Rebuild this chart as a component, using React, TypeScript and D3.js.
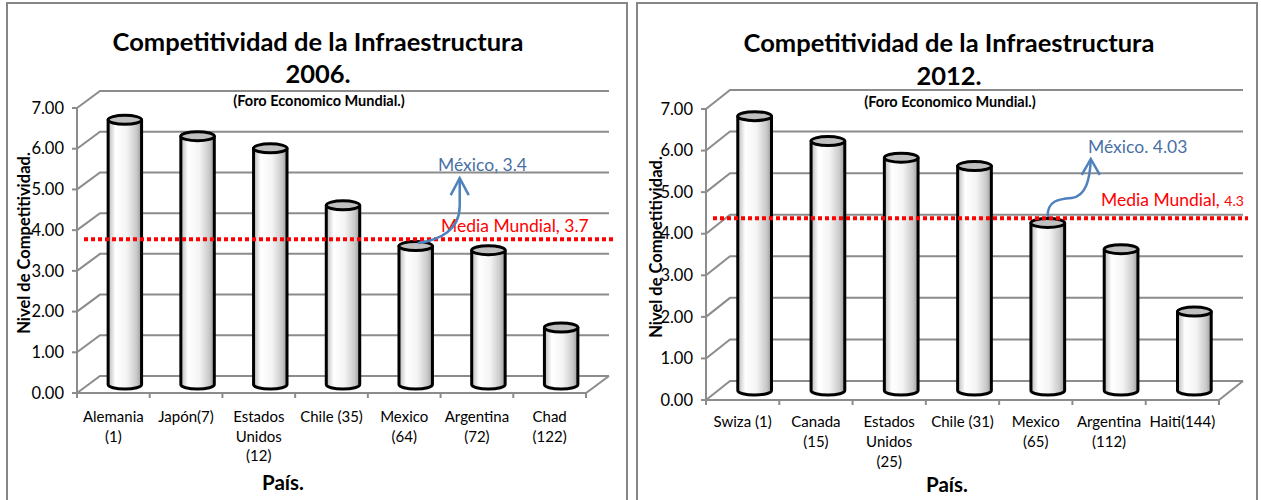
import React from "react";
import * as d3 from "d3";

// ---------- DATA ----------
const categories2006: string[][] = [
  ["Alemania", "(1)"],
  ["Japón(7)"],
  ["Estados", "Unidos", "(12)"],
  ["Chile (35)"],
  ["Mexico", "(64)"],
  ["Argentina", "(72)"],
  ["Chad", "(122)"],
];
const values2006: number[] = [6.5, 6.1, 5.8, 4.4, 3.4, 3.3, 1.4];

const categories2012: string[][] = [
  ["Swiza (1)"],
  ["Canada", "(15)"],
  ["Estados", "Unidos", "(25)"],
  ["Chile (31)"],
  ["Mexico", "(65)"],
  ["Argentina", "(112)"],
  ["Haiti(144)"],
];
const values2012: number[] = [6.6, 6.0, 5.6, 5.4, 4.03, 3.4, 1.9];

const yTicks: number[] = [0, 1, 2, 3, 4, 5, 6, 7];
const mean2006 = 3.7;
const mean2012 = 4.3;
const mexicoIndex = 4;

const titleLine1 = "Competitividad de la Infraestructura";
const subtitle = "(Foro Economico Mundial.)";
const yTitle = "Nivel de Competitividad.";
const xTitle = "País.";

const FONT = "Lato, 'Open Sans', sans-serif";

type PanelProps = {
  id: string;
  year: string;
  cats: string[][];
  values: number[];
  mean: number;
  meanLabel: React.ReactNode;
  mexLabel: string;
  box: [number, number, number, number];
  axisX: number;
  frontRight: number;
  baseY: number;
  topY: number;
  dx: number;
  dy: number;
  titleX: number;
  titleY: number;
  yearY: number;
  subY: number;
  yTitlePos: [number, number];
  xTitlePos: [number, number];
  meanLabelPos: [number, number];
  mexLabelPos: [number, number];
  arrowPath: (sx: number, sy: number) => string;
  arrowHead: (sx: number, sy: number) => string;
  labelY: number;
  lineH: number;
};

function Panel(p: PanelProps) {
  const y = d3.scaleLinear().domain([0, 7]).range([p.baseY, p.topY]);
  const x = d3
    .scaleBand<number>()
    .domain(p.values.map((_, i) => i))
    .range([p.axisX, p.frontRight]);
  const bw = x.bandwidth();
  const barW = bw * 0.46;
  const ry = 4.5;
  const backRight = p.frontRight + p.dx;
  const gridColor = "#8c8c8c";
  const fmt = d3.format(".2f");

  const mexCx = (x(mexicoIndex) as number) + bw / 2 + p.dx / 2;
  const mexTop = y(p.values[mexicoIndex]) + p.dy / 2;

  return (
    <g>
      <rect
        x={p.box[0]}
        y={p.box[1]}
        width={p.box[2]}
        height={p.box[3]}
        fill="white"
        stroke="#868686"
        strokeWidth={2}
      />
      {yTicks.map((t) => (
        <path
          key={"g" + t}
          d={`M${p.axisX},${y(t)} L${p.axisX + p.dx},${y(t) + p.dy} L${backRight},${y(t) + p.dy}`}
          fill="none"
          stroke={gridColor}
          strokeWidth={2}
        />
      ))}
      <path
        d={`M${p.axisX},${y(0)} L${p.frontRight},${y(0)} L${backRight},${y(0) + p.dy}`}
        fill="none"
        stroke={gridColor}
        strokeWidth={2}
      />
      <line x1={p.axisX} x2={p.axisX} y1={y(0)} y2={y(7)} stroke={gridColor} strokeWidth={2} />
      {yTicks.map((t) => (
        <g key={"yt" + t}>
          <line x1={p.axisX - 5} x2={p.axisX} y1={y(t)} y2={y(t)} stroke={gridColor} strokeWidth={2} />
          <text
            x={p.axisX - 13}
            y={y(t)}
            dy="0.35em"
            textAnchor="end"
            fontFamily={FONT}
            fontSize={16.5}
            fill="#000"
          >
            {fmt(t)}
          </text>
        </g>
      ))}
      {d3.range(p.values.length + 1).map((i) => {
        const xx = p.axisX + i * bw;
        return (
          <line key={"ct" + i} x1={xx} x2={xx} y1={y(0)} y2={y(0) + 5} stroke={gridColor} strokeWidth={2} />
        );
      })}
      {p.values.map((v, i) => {
        const cx = (x(i) as number) + bw / 2 + p.dx / 2;
        const l = cx - barW / 2;
        const r = cx + barW / 2;
        const yb = y(0) + p.dy / 2;
        const yt = y(v) + p.dy / 2;
        return (
          <g key={"b" + i}>
            <path
              d={`M${l},${yt} L${l},${yb} A${barW / 2},${ry} 0 0 0 ${r},${yb} L${r},${yt} Z`}
              fill={`url(#cyl-${p.id})`}
              stroke="#000"
              strokeWidth={3}
              strokeLinejoin="round"
            />
            <ellipse cx={cx} cy={yt} rx={barW / 2} ry={ry} fill="#c0c0c0" stroke="#000" strokeWidth={3} />
          </g>
        );
      })}
      {p.cats.map((lines, i) => {
        const cx = (x(i) as number) + bw / 2;
        return (
          <text key={"cl" + i} textAnchor="middle" fontFamily={FONT} fontSize={15} fill="#000">
            {lines.map((ln, j) => (
              <tspan key={j} x={cx} y={p.labelY + j * p.lineH}>
                {ln}
              </tspan>
            ))}
          </text>
        );
      })}
      <line
        x1={p.axisX + 7}
        x2={backRight + 5}
        y1={y(p.mean) - 3}
        y2={y(p.mean) - 3}
        stroke="#ff0000"
        strokeWidth={4}
        strokeDasharray="4 3"
      />
      <text x={p.meanLabelPos[0]} y={p.meanLabelPos[1]} fontFamily={FONT} fontSize={17.5} fill="#ff0000">
        {p.meanLabel}
      </text>
      <path d={p.arrowPath(mexCx, mexTop)} fill="none" stroke="#4f81bd" strokeWidth={2.5} />
      <path d={p.arrowHead(mexCx, mexTop)} fill="none" stroke="#4f81bd" strokeWidth={2.5} />
      <text x={p.mexLabelPos[0]} y={p.mexLabelPos[1]} fontFamily={FONT} fontSize={17.5} fill="#4a6fa5">
        {p.mexLabel}
      </text>
      <text x={p.titleX} y={p.titleY} textAnchor="middle" fontFamily={FONT} fontWeight="bold" fontSize={25.5} fill="#000">
        {titleLine1}
      </text>
      <text x={p.titleX} y={p.yearY} textAnchor="middle" fontFamily={FONT} fontWeight="bold" fontSize={25.5} fill="#000">
        {p.year}
      </text>
      <text x={p.titleX + 1} y={p.subY} textAnchor="middle" fontFamily={FONT} fontWeight="bold" fontSize={14.5} fill="#000">
        {subtitle}
      </text>
      <text
        transform={`translate(${p.yTitlePos[0]},${p.yTitlePos[1]}) rotate(-90)`}
        textAnchor="middle"
        dy="0.35em"
        fontFamily={FONT}
        fontWeight="bold"
        fontSize={16.5}
        fill="#000"
      >
        {yTitle}
      </text>
      <text
        x={p.xTitlePos[0]}
        y={p.xTitlePos[1]}
        textAnchor="middle"
        fontFamily={FONT}
        fontWeight="bold"
        fontSize={20.5}
        fill="#000"
      >
        {xTitle}
      </text>
    </g>
  );
}

export default function App() {
  const gradStops = [
    ["0%", "#b8b8b8"],
    ["22%", "#ffffff"],
    ["55%", "#f4f4f4"],
    ["85%", "#c9c9c9"],
    ["100%", "#9a9a9a"],
  ];
  return (
    <svg
      width={1261}
      height={500}
      style={{ position: "absolute", left: 0, top: 0, background: "white" }}
    >
      <defs>
        {["a", "b"].map((id) => (
          <linearGradient key={id} id={`cyl-${id}`} x1="0" x2="1" y1="0" y2="0">
            {gradStops.map(([o, c]) => (
              <stop key={o} offset={o} stopColor={c} />
            ))}
          </linearGradient>
        ))}
      </defs>
      <Panel
        id="a"
        year="2006."
        cats={categories2006}
        values={values2006}
        mean={mean2006}
        meanLabel={`Media Mundial, ${mean2006}`}
        mexLabel={`México, ${values2006[mexicoIndex]}`}
        box={[7, 3, 620, 510]}
        axisX={77}
        frontRight={586}
        baseY={393}
        topY={108}
        dx={23}
        dy={-17}
        titleX={318}
        titleY={51}
        yearY={83}
        subY={106}
        yTitlePos={[24, 243]}
        xTitlePos={[283, 490]}
        meanLabelPos={[441, 232]}
        mexLabelPos={[438, 171]}
        arrowPath={(sx, sy) =>
          `M${sx + 2},${sy - 3} C${sx + 24},${sy - 6} ${sx + 44},${sy - 16} ${sx + 44},${sy - 40} L${sx + 44},${sy - 68}`
        }
        arrowHead={(sx, sy) =>
          `M${sx + 35},${sy - 51} L${sx + 44},${sy - 68} L${sx + 53},${sy - 51}`
        }
        labelY={422}
        lineH={19.5}
      />
      <Panel
        id="b"
        year="2012."
        cats={categories2012}
        values={values2012}
        mean={mean2012}
        meanLabel={
          <>
            {"Media Mundial, "}
            <tspan fontSize={14}>{mean2012}</tspan>
          </>
        }
        mexLabel={`México. ${values2012[mexicoIndex]}`}
        box={[637, 3, 620, 510]}
        axisX={706}
        frontRight={1219}
        baseY={400}
        topY={109}
        dx={24}
        dy={-19}
        titleX={949}
        titleY={52}
        yearY={85}
        subY={107}
        yTitlePos={[656, 247]}
        xTitlePos={[947, 492]}
        meanLabelPos={[1101, 206]}
        mexLabelPos={[1088, 153]}
        arrowPath={(sx, sy) =>
          `M${sx},${sy - 6} C${sx - 1},${sy - 23} ${sx + 12},${sy - 24} ${sx + 24},${sy - 25} C${sx + 38},${sy - 27} ${sx + 42},${sy - 43} ${sx + 43},${sy - 63}`
        }
        arrowHead={(sx, sy) =>
          `M${sx + 34},${sy - 48} L${sx + 43},${sy - 64} L${sx + 52},${sy - 48}`
        }
        labelY={427}
        lineH={20}
      />
    </svg>
  );
}
